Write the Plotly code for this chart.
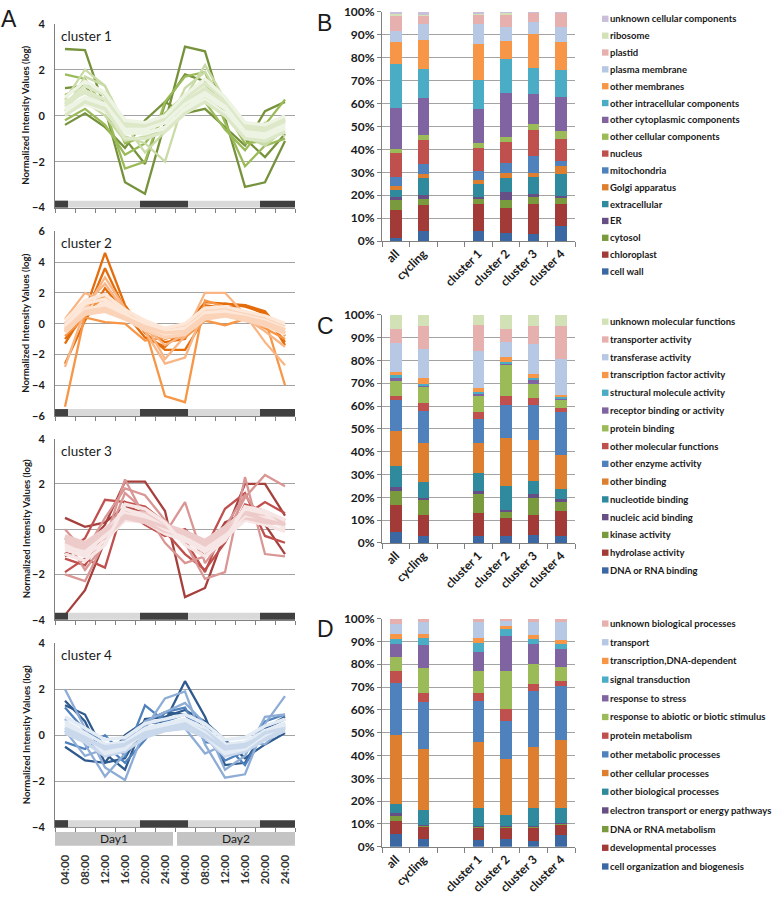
import plotly.graph_objects as go

W, H = 778, 901
FONT = "Lato"


def px(x):
    return x / W


def py(y):
    return 1 - y / H


def ax_id(letter, n):
    return letter if n == 1 else f"{letter}{n}"


def ax_key(letter, n):
    return f"{letter}axis" if n == 1 else f"{letter}axis{n}"


# ---------------- DATA ----------------
time_labels = ["04:00", "08:00", "12:00", "16:00", "20:00", "24:00",
               "04:00", "08:00", "12:00", "16:00", "20:00", "24:00"]
day_labels = ["Day1", "Day2"]
# light / dark schedule in time-point index units
light_schedule = [(-0.5, 0.15, "dark"), (0.15, 3.75, "light"), (3.75, 6.15, "dark"),
                  (6.15, 9.75, "light"), (9.75, 11.5, "dark")]

# cluster 1 profiles (grouped by shade tier)
c1_dark = [
    [2.9, 2.85, 0.3, -2.9, -3.4, -0.3, 3.0, 2.8, -0.1, -3.1, -2.9, -1.1],
    [-0.4, 0.1, -0.5, -1.4, -0.2, 0.6, 0.1, 0.3, -0.5, -1.3, 0.2, 0.6],
    [1.2, 1.3, 0.2, -1.0, -2.1, 0.5, 1.8, 1.5, 0.0, -1.0, -1.8, -0.8],
]
c1_mid = [
    [1.8, 1.6, 0.3, -2.3, -2.0, 0.6, 1.7, 1.9, -0.3, -2.2, -1.3, -1.0],
    [-0.2, 0.3, -0.4, -1.7, -1.2, -0.1, 0.2, 0.6, -0.6, -1.5, -0.4, 0.7],
    [0.9, 1.3, 0.9, -1.2, -0.9, 0.1, 0.9, 1.4, 0.2, -1.2, -1.1, -0.7],
]
c1_light = [
    [0.7, 2.0, 1.3, -0.9, -1.2, -2.0, 0.8, 2.2, 0.7, -0.9, -1.3, -0.6],
    [0.2, 1.7, 1.3, -0.4, -1.6, -0.7, 1.2, 1.9, 0.5, -1.0, -0.3, -0.9],
    [0.5, 0.6, 0.0, -1.1, -0.9, -0.6, 0.4, 0.8, 0.1, -0.8, -1.2, -0.2],
]
c1_band = [
    [0.4, 1.1, 0.7, -0.5, -0.6, -0.3, 0.6, 1.2, 0.5, -0.6, -0.7, -0.3],
    [0.2, 0.7, 0.4, -0.7, -0.8, -0.5, 0.3, 0.9, 0.3, -0.8, -0.9, -0.5],
    [0.6, 1.0, 0.5, -0.3, -0.4, -0.1, 0.7, 1.1, 0.6, -0.4, -0.5, -0.1],
    [0.1, 0.5, 0.2, -0.8, -0.7, -0.6, 0.2, 0.7, 0.1, -0.9, -1.0, -0.6],
    [0.5, 1.3, 0.9, -0.4, -0.5, -0.2, 0.8, 1.4, 0.7, -0.5, -0.6, -0.2],
    [0.3, 0.8, 0.5, -0.6, -0.6, -0.3, 0.5, 1.0, 0.4, -0.7, -0.8, -0.4],
    [0.0, 0.6, 0.3, -1.0, -1.0, -0.7, 0.1, 0.6, 0.0, -1.0, -1.1, -0.7],
    [0.8, 1.5, 1.0, -0.2, -0.3, 0.0, 0.9, 1.6, 0.8, -0.3, -0.4, 0.0],
]

# cluster 2 profiles
c2_dark = [
    [-1.3, 0.8, 4.6, 1.2, -0.6, -1.7, -1.7, 0.4, 1.3, 1.1, 0.7, -1.4],
    [-1.0, 0.5, 3.6, 0.9, -0.4, -1.2, -1.0, 1.2, 1.0, 1.2, 0.6, -1.2],
    [-2.6, 0.2, 2.3, 0.7, -0.9, -1.5, -0.2, 1.4, 1.3, 1.2, 0.8, -0.8],
]
c2_mid = [
    [-5.4, 0.6, 1.8, 0.8, 0.1, -1.0, -0.6, 0.9, 1.0, 0.5, 0.3, -4.0],
    [-0.5, 1.0, 1.9, 0.4, -0.3, -4.7, -5.1, 1.5, 1.1, 0.8, 0.4, -0.6],
    [-0.8, 0.4, 0.1, 0.0, -1.1, -0.9, -0.9, 0.2, -0.1, 0.3, -0.3, -1.0],
]
c2_light = [
    [0.3, 2.0, 1.4, 0.6, -0.5, -2.6, -2.2, 1.0, 0.9, 0.2, -0.2, -0.3],
    [-2.8, 0.9, 3.0, 1.0, -0.2, -1.4, -0.7, 2.0, 2.0, 0.6, -1.2, -2.7],
    [0.0, 1.2, 2.6, 0.8, 0.0, -2.3, -0.8, 0.7, 0.5, 0.4, -0.5, -1.5],
]
c2_band = [
    [-0.3, 0.9, 1.1, 0.5, -0.2, -0.6, -0.4, 0.6, 0.75, 0.4, 0.1, -0.4],
    [-0.6, 0.7, 1.4, 0.6, -0.4, -0.8, -0.6, 0.4, 0.6, 0.3, -0.1, -0.7],
    [0.0, 1.1, 0.9, 0.3, -0.1, -0.4, -0.2, 0.8, 0.9, 0.6, 0.3, -0.2],
    [-0.2, 1.3, 1.6, 0.7, -0.3, -0.7, -0.5, 0.7, 0.8, 0.5, 0.0, -0.5],
    [-0.5, 0.6, 0.8, 0.3, -0.4, -0.9, -0.7, 0.3, 0.5, 0.2, -0.1, -0.6],
    [-0.1, 0.9, 1.2, 0.6, 0.0, -0.5, -0.3, 0.6, 0.7, 0.5, 0.2, -0.3],
    [-0.4, 0.8, 1.0, 0.4, -0.2, -0.6, -0.5, 0.5, 0.6, 0.4, 0.1, -0.4],
    [0.2, 1.5, 1.9, 0.9, 0.2, -0.3, 0.0, 1.0, 1.1, 0.8, 0.5, 0.0],
]

# cluster 3 profiles
c3_dark = [
    [-3.8, -2.7, -0.5, 0.9, 0.6, 0.2, -0.4, -0.9, -0.3, 0.8, 0.5, 0.2],
    [-1.2, -0.8, 0.2, 2.1, 2.1, 0.8, -3.0, -2.6, -0.2, 2.0, 2.0, 0.6],
    [0.5, 0.1, 0.3, 1.0, 0.7, 0.2, -0.2, -1.2, 0.3, 0.7, 0.2, -1.1],
]
c3_mid = [
    [-1.9, -1.3, -1.7, 1.2, 0.5, -0.1, -1.1, -1.8, -0.6, 1.1, 0.8, 0.4],
    [-1.1, -0.4, 1.3, 1.2, 1.0, 0.3, -0.5, -1.9, 0.2, 0.6, 1.2, 0.7],
    [-1.3, -1.6, -0.2, 0.8, 0.2, -0.3, 0.0, -0.9, 0.9, 1.6, -0.3, -0.6],
]
c3_light = [
    [-2.0, -2.3, -0.5, 2.2, 0.5, -0.2, 1.2, -1.5, -0.3, 1.4, 2.4, 1.9],
    [0.0, -1.0, 0.5, 1.8, 1.5, 0.4, -0.6, -2.2, -1.9, 2.3, -1.1, -1.2],
    [-0.4, -1.8, -0.6, 1.6, 0.8, -0.6, -1.5, -1.2, 0.1, 1.5, 0.3, 0.2],
]
c3_band = [
    [-0.6, -0.9, -0.3, 0.6, 0.45, 0.0, -0.3, -0.7, -0.15, 0.6, 0.45, 0.15],
    [-0.9, -1.2, -0.5, 0.4, 0.3, -0.2, -0.5, -1.0, -0.4, 0.4, 0.2, -0.1],
    [-0.3, -0.6, 0.0, 0.8, 0.7, 0.2, -0.1, -0.5, 0.1, 0.8, 0.6, 0.3],
    [-0.7, -1.1, -0.2, 0.9, 0.6, 0.1, -0.4, -0.9, -0.2, 0.9, 0.7, 0.0],
    [-0.5, -0.7, -0.4, 0.5, 0.3, -0.1, -0.2, -0.6, 0.0, 0.5, 0.3, 0.2],
    [-0.8, -1.0, -0.3, 0.7, 0.5, 0.0, -0.4, -0.8, -0.3, 0.6, 0.5, 0.1],
    [-0.4, -0.8, -0.1, 0.6, 0.4, 0.1, -0.2, -0.7, -0.1, 0.7, 0.4, 0.2],
    [-1.1, -1.4, -0.7, 1.1, 0.9, 0.3, -0.7, -1.2, -0.5, 1.0, 0.8, 0.4],
]

# cluster 4 profiles
c4_dark = [
    [1.5, 0.6, -1.2, -1.0, 0.5, 0.6, 2.35, 0.8, -1.3, -1.2, 0.3, 0.8],
    [-0.5, -1.1, -1.2, 0.0, 0.6, 1.0, 0.9, 0.3, -0.9, -0.4, 0.3, 0.7],
    [1.3, 0.9, -0.8, -1.5, 0.7, 0.8, 1.1, 0.6, -0.2, -1.0, -0.4, 0.1],
]
c4_mid = [
    [-0.3, -0.6, 0.0, -0.9, 1.3, 0.6, 0.9, 0.0, -1.1, -0.7, 0.6, 0.9],
    [1.2, 0.2, -0.4, -1.2, -0.2, 1.0, 1.2, -0.3, -0.4, -1.3, 0.2, 0.5],
]
c4_light = [
    [2.0, 0.3, -1.4, -1.95, 0.3, 1.6, 1.9, -0.4, -1.85, -1.7, 0.5, 1.7],
    [0.7, -0.4, -1.8, -0.8, 0.6, 1.0, 1.4, 0.5, -1.5, -0.9, 0.8, 0.9],
    [0.2, -0.9, -0.6, -0.2, 0.3, 0.2, 0.3, -0.8, -0.4, -0.3, -0.4, 0.4],
]
c4_band = [
    [0.35, -0.1, -0.65, -0.5, 0.1, 0.35, 0.5, 0.1, -0.65, -0.5, 0.0, 0.35],
    [0.6, 0.1, -0.4, -0.3, 0.3, 0.5, 0.7, 0.3, -0.4, -0.3, 0.2, 0.5],
    [0.1, -0.3, -0.9, -0.7, -0.1, 0.2, 0.3, -0.1, -0.9, -0.7, -0.2, 0.2],
    [0.5, 0.0, -0.8, -0.6, 0.2, 0.5, 0.6, 0.0, -0.8, -0.6, 0.1, 0.4],
    [0.2, -0.2, -0.5, -0.4, 0.0, 0.3, 0.4, 0.2, -0.5, -0.4, -0.1, 0.3],
    [0.4, 0.0, -0.7, -0.6, 0.2, 0.4, 0.6, 0.1, -0.7, -0.6, 0.0, 0.4],
    [0.3, -0.1, -0.6, -0.4, 0.1, 0.3, 0.5, 0.0, -0.6, -0.5, 0.1, 0.3],
    [0.8, 0.3, -0.2, -0.1, 0.5, 0.7, 0.9, 0.5, -0.2, -0.1, 0.4, 0.7],
]

# stacked bar categories
bar_categories = ["all", "cycling", " ", "cluster 1", "cluster 2", "cluster 3", "cluster 4"]

# B: cellular components (bottom -> top), % per column
cc_labels = ["cell wall", "chloroplast", "cytosol", "ER", "extracellular", "Golgi apparatus",
             "mitochondria", "nucleus", "other cellular components", "other cytoplasmic components",
             "other intracellular components", "other membranes", "plasma membrane", "plastid",
             "ribosome", "unknown cellular components"]
cc_all = [1.2, 12.4, 4.3, 1.4, 2.9, 1.7, 4.0, 10.4, 1.8, 17.9, 19.4, 9.3, 5.0, 6.4, 1.4, 0.5]
cc_cycling = [4.3, 11.5, 2.4, 1.9, 7.4, 1.9, 4.3, 10.3, 2.1, 16.2, 12.8, 12.7, 6.8, 3.9, 0.3, 1.2]
cc_cluster1 = [4.6, 11.4, 2.6, 0.7, 5.8, 1.4, 3.9, 10.0, 2.3, 14.9, 12.9, 15.5, 8.8, 4.3, 0.2, 0.7]
cc_cluster2 = [3.6, 11.0, 3.3, 3.6, 6.0, 2.2, 4.3, 9.3, 2.1, 19.4, 14.7, 7.9, 6.2, 5.0, 1.0, 0.4]
cc_cluster3 = [3.2, 12.8, 3.3, 1.2, 7.4, 1.8, 7.3, 11.3, 2.6, 13.3, 11.3, 15.0, 5.2, 3.9, 0.1, 0.3]
cc_cluster4 = [6.7, 9.5, 2.9, 0.7, 9.6, 3.3, 2.4, 9.6, 3.3, 15.0, 11.8, 12.2, 6.6, 6.0, 0.2, 0.2]

# C: molecular functions
mf_labels = ["DNA or RNA binding", "hydrolase activity", "kinase activity", "nucleic acid binding",
             "nucleotide binding", "other binding", "other enzyme activity", "other molecular functions",
             "protein binding", "receptor binding or activity", "structural molecule activity",
             "transcription factor activity", "transferase activity", "transporter activity",
             "unknown molecular functions"]
mf_all = [5.0, 11.6, 6.3, 1.6, 9.2, 15.4, 13.7, 1.7, 6.8, 0.8, 1.3, 1.5, 12.9, 5.8, 6.4]
mf_cycling = [3.2, 9.0, 6.9, 0.7, 7.1, 16.8, 14.0, 3.6, 7.2, 0.7, 0.3, 2.6, 12.9, 10.0, 5.0]
mf_cluster1 = [2.9, 10.4, 8.6, 0.7, 7.9, 13.2, 10.5, 3.1, 7.6, 0.7, 0.4, 2.1, 16.1, 11.2, 4.6]
mf_cluster2 = [3.2, 7.7, 2.9, 0.7, 10.3, 21.0, 14.5, 4.3, 13.9, 0.4, 0.6, 1.9, 6.7, 5.5, 6.4]
mf_cluster3 = [3.7, 8.5, 7.3, 2.1, 5.6, 17.9, 15.2, 3.2, 6.1, 2.0, 0.5, 1.8, 13.2, 7.9, 5.0]
mf_cluster4 = [2.9, 10.9, 4.5, 0.8, 4.5, 15.1, 18.7, 1.8, 3.8, 0.5, 0.3, 1.1, 15.8, 14.6, 4.7]

# D: biological processes
bp_labels = ["cell organization and biogenesis", "developmental processes", "DNA or RNA metabolism",
             "electron transport or energy pathways", "other biological processes",
             "other cellular processes", "other metabolic processes", "protein metabolism",
             "response to abiotic or biotic stimulus", "response to stress", "signal transduction",
             "transcription,DNA-dependent", "transport", "unknown biological processes"]
bp_all = [5.7, 5.8, 1.8, 1.5, 3.8, 30.4, 22.9, 5.0, 6.2, 6.0, 1.9, 2.4, 4.3, 2.3]
bp_cycling = [3.3, 5.7, 0.3, 0.3, 6.4, 27.0, 20.5, 3.8, 11.1, 10.0, 3.3, 1.4, 5.5, 1.4]
bp_cluster1 = [3.2, 5.4, 0.3, 0.1, 7.8, 29.0, 18.2, 3.3, 9.6, 8.6, 4.0, 1.9, 7.2, 1.4]
bp_cluster2 = [3.6, 5.0, 0.3, 0.1, 4.9, 24.4, 16.9, 5.3, 16.6, 15.3, 2.9, 1.4, 2.2, 1.1]
bp_cluster3 = [2.4, 6.2, 0.3, 0.1, 7.8, 26.9, 24.6, 2.9, 9.0, 8.6, 2.2, 1.8, 5.8, 1.4]
bp_cluster4 = [5.0, 5.0, 0.3, 0.2, 6.4, 30.1, 23.5, 2.1, 6.2, 7.9, 2.4, 1.4, 8.1, 1.4]

# ---------------- STYLE ----------------
palette = ["#3B67A3", "#A23B38", "#7A9A3E", "#664F85", "#2F8A9E", "#DD7F2E",
           "#4F81BD", "#C0504D", "#9BBB59", "#8064A2", "#4BACC6", "#F79646",
           "#B7C8E4", "#E6B0AF", "#D3E2B6", "#C9BFDA"]
GRID = "#A3A3A3"
AXIS = "#808080"
TXT = "#1a1a1a"

# dark, mid, light, band tone A, band tone B
cluster_styles = [
    ["#76933C", "#9BBB59", "#C9DBA6", "#DCE8C8", "#EEF4E4"],
    ["#E46C0A", "#F79646", "#F9B584", "#FAD3B8", "#FDE7D8"],
    ["#A5403D", "#C0504D", "#D99694", "#EDCBCA", "#F7E6E6"],
    ["#2F5A8E", "#4F81BD", "#8EADD6", "#CAD8EC", "#E3EBF5"],
]
cluster_data = [
    ("cluster 1", [c1_dark, c1_mid, c1_light, c1_band], (-4, 4)),
    ("cluster 2", [c2_dark, c2_mid, c2_light, c2_band], (-6, 6)),
    ("cluster 3", [c3_dark, c3_mid, c3_light, c3_band], (-4, 4)),
    ("cluster 4", [c4_dark, c4_mid, c4_light, c4_band], (-4, 4)),
]
line_boxes = [(16, 203), (227, 415), (438, 622), (646, 833)]
LX0, LX1 = 55, 295

fig = go.Figure()
layout = dict(
    width=W, height=H, margin=dict(l=0, r=0, t=0, b=0),
    paper_bgcolor="white", plot_bgcolor="white", showlegend=False,
    barmode="stack", font=dict(family=FONT, color=TXT),
)
shapes, annotations = [], []
xs = list(range(len(time_labels)))
boundaries = [i - 0.5 for i in range(len(time_labels) + 1)]

for k, ((name, tiers, yr), cols, (top, bot)) in enumerate(zip(cluster_data, cluster_styles, line_boxes)):
    n = k + 1
    xa, ya = ax_id("x", n), ax_id("y", n)
    for t, tier in enumerate(tiers):
        for m, prof in enumerate(tier):
            if t < 3:
                col, lw = cols[t], 2.3
            else:
                col, lw = cols[3 + (m % 2)], 3.4
            fig.add_trace(go.Scatter(x=xs, y=prof, mode="lines", xaxis=xa, yaxis=ya,
                                     line=dict(color=col, width=lw), hoverinfo="skip"))
    last = (n == 4)
    layout[ax_key("x", n)] = dict(
        domain=[px(LX0), px(LX1)], anchor=ya, range=[-0.5, 11.5],
        showgrid=False, zeroline=False, showline=True, linecolor=AXIS, linewidth=1,
        tickmode="array", tickvals=xs, ticktext=time_labels, ticks="",
        showticklabels=last, tickangle=-90, ticklabelstandoff=22,
        tickfont=dict(size=11.5, family=FONT, weight="bold", color="#333"),
        minor=dict(tickmode="array", tickvals=boundaries, ticks="outside", ticklen=4,
                   tickcolor=AXIS, showgrid=False),
    )
    layout[ax_key("y", n)] = dict(
        domain=[py(bot), py(top)], anchor=xa, range=list(yr), dtick=2,
        showgrid=True, gridcolor=GRID, gridwidth=1, zeroline=False,
        showline=True, linecolor=AXIS, linewidth=1, ticks="", ticklabelstandoff=7,
        tickfont=dict(size=11, family=FONT, weight="bold", color=TXT),
    )
    for (s, e, state) in light_schedule:
        shapes.append(dict(type="rect", xref=xa, yref=f"{ya} domain", x0=s, x1=e, y0=0.0, y1=0.038,
                           fillcolor="#404040" if state == "dark" else "#D9D9D9",
                           line=dict(width=0), layer="above"))
    annotations.append(dict(text=name, xref="paper", yref="paper", x=px(59), y=py(top + 12),
                            xanchor="left", yanchor="middle", showarrow=False,
                            font=dict(size=13.5, family=FONT, color=TXT)))
    annotations.append(dict(text="Normalized Intensity Values (log)", xref="paper", yref="paper",
                            x=px(26), y=py((top + bot) / 2), textangle=-90, showarrow=False,
                            xanchor="center", yanchor="middle",
                            font=dict(size=9.6, family=FONT, weight="bold", color=TXT)))

# Day bars under cluster 4
for lab, (s, e) in zip(day_labels, [(-0.5, 5.4), (5.6, 11.5)]):
    shapes.append(dict(type="rect", xref="x4", yref="paper", x0=s, x1=e, y0=py(852), y1=py(838),
                       fillcolor="#C4C4C4", line=dict(width=0)))
    annotations.append(dict(text=lab, xref="x4", yref="paper", x=(s + e) / 2, y=py(845),
                            showarrow=False, xanchor="center", yanchor="middle",
                            font=dict(size=12, family=FONT, color=TXT)))

# stacked bar panels
bar_panels = [
    ("B", cc_labels, [cc_all, cc_cycling, None, cc_cluster1, cc_cluster2, cc_cluster3, cc_cluster4], (4, 237), (11, 17.13)),
    ("C", mf_labels, [mf_all, mf_cycling, None, mf_cluster1, mf_cluster2, mf_cluster3, mf_cluster4], (312, 544), (319, 18.07)),
    ("D", bp_labels, [bp_all, bp_cycling, None, bp_cluster1, bp_cluster2, bp_cluster3, bp_cluster4], (621, 853), (626, 19.0)),
]
BX0, BX1 = 382, 575
for j, (letter, labels, columns, (top, bot), (ly0, lstep)) in enumerate(bar_panels):
    n = 5 + j
    xa, ya = ax_id("x", n), ax_id("y", n)
    for i, lab in enumerate(labels):
        yvals = [None if col is None else col[i] for col in columns]
        fig.add_trace(go.Bar(x=bar_categories, y=yvals, name=lab, xaxis=xa, yaxis=ya,
                             width=0.42, marker=dict(color=palette[i], line=dict(width=0)),
                             hoverinfo="skip"))
    layout[ax_key("x", n)] = dict(
        domain=[px(BX0), px(BX1)], anchor=ya, type="category",
        categoryorder="array", categoryarray=bar_categories, range=[-0.5, 6.5],
        tickson="boundaries", ticks="outside", ticklen=5, tickcolor=AXIS,
        showline=True, linecolor=AXIS, linewidth=1, showgrid=False, tickangle=-45,
        tickfont=dict(size=12, family=FONT, weight="bold", color=TXT),
    )
    layout[ax_key("y", n)] = dict(
        domain=[py(bot), py(top)], anchor=xa, range=[0, 100], dtick=10, ticksuffix="%",
        showgrid=True, gridcolor=GRID, gridwidth=1, zeroline=False,
        showline=True, linecolor=AXIS, linewidth=1, ticks="outside", ticklen=4, tickcolor=AXIS,
        tickfont=dict(size=12, family=FONT, weight="bold", color=TXT),
    )
    # legend (top item = top of stack)
    for r, i in enumerate(reversed(range(len(labels)))):
        yc = ly0 + r * lstep
        shapes.append(dict(type="rect", xref="paper", yref="paper", x0=px(602), x1=px(608.5),
                           y0=py(yc + 3.2), y1=py(yc - 3.2), fillcolor=palette[i], line=dict(width=0)))
        annotations.append(dict(text=labels[i], xref="paper", yref="paper", x=px(608), y=py(yc),
                                xanchor="left", yanchor="middle", showarrow=False,
                                font=dict(size=9.5, family=FONT, weight="bold", color=TXT)))
    annotations.append(dict(text=letter, xref="paper", yref="paper", x=px(315), y=py(top + 11),
                            xanchor="left", yanchor="middle", showarrow=False,
                            font=dict(size=23, family="Liberation Sans", color=TXT)))

annotations.append(dict(text="A", xref="paper", yref="paper", x=px(-1), y=py(11),
                        xanchor="left", yanchor="middle", showarrow=False,
                        font=dict(size=23, family="Liberation Sans", color=TXT)))

layout["shapes"] = shapes
layout["annotations"] = annotations
fig.update_layout(**layout)
fig.write_html("out.html", config={"displayModeBar": False},
               post_script="document.body.style.margin='0';document.body.style.overflow='hidden';")
